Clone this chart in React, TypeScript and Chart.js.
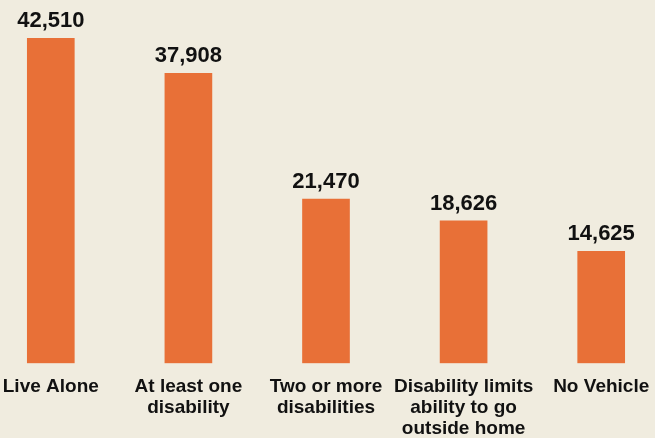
import React, { useEffect, useRef } from "react";
import { Chart, registerables } from "chart.js";

Chart.register(...registerables);

const categories: (string | string[])[] = [
  "Live Alone",
  ["At least one", "disability"],
  ["Two or more", "disabilities"],
  ["Disability limits", "ability to go", "outside home"],
  "No Vehicle",
];
const values: number[] = [42510, 37908, 21470, 18626, 14625];

const BG = "#f0ecdf";
const BAR = "#e87037";
const FONT = "'Liberation Sans', Arial, sans-serif";

const valueLabels = {
  id: "valueLabels",
  afterDatasetsDraw(chart: any) {
    const ctx = chart.ctx;
    const meta = chart.getDatasetMeta(0);
    ctx.save();
    ctx.font = `bold 22px ${FONT}`;
    ctx.fillStyle = "#111";
    ctx.textAlign = "center";
    ctx.textBaseline = "alphabetic";
    meta.data.forEach((bar: any, i: number) => {
      ctx.fillText(values[i].toLocaleString("en-US"), bar.x, bar.y - 11);
    });
    ctx.restore();
  },
};

export default function App() {
  const ref = useRef<HTMLCanvasElement>(null);
  useEffect(() => {
    if (!ref.current) return;
    const chart = new Chart(ref.current, {
      type: "bar",
      data: {
        labels: categories,
        datasets: [
          {
            data: values,
            backgroundColor: BAR,
            barThickness: 47,
          },
        ],
      },
      options: {
        responsive: false,
        animation: false,
        layout: { padding: { top: 38, left: 0, right: 0, bottom: -14 } },
        plugins: { legend: { display: false }, tooltip: { enabled: false } },
        scales: {
          x: {
            offset: true,
            grid: { display: false, drawTicks: false },
            border: { display: false },
            ticks: {
              color: "#111",
              padding: 13,
              maxRotation: 0,
              autoSkip: false,
              font: { family: FONT, size: 19, weight: "bold", lineHeight: 1.1 },
            },
          },
          y: {
            display: false,
            min: 0,
            max: Math.max(...values),
          },
        },
      },
      plugins: [valueLabels],
    });
    return () => chart.destroy();
  }, []);
  return (
    <div style={{ position: "fixed", left: 0, top: 0, width: 655, height: 438, background: BG, overflow: "hidden" }}>
      <canvas ref={ref} width={688} height={438} style={{ position: "absolute", left: -18, top: 0 }} />
    </div>
  );
}
